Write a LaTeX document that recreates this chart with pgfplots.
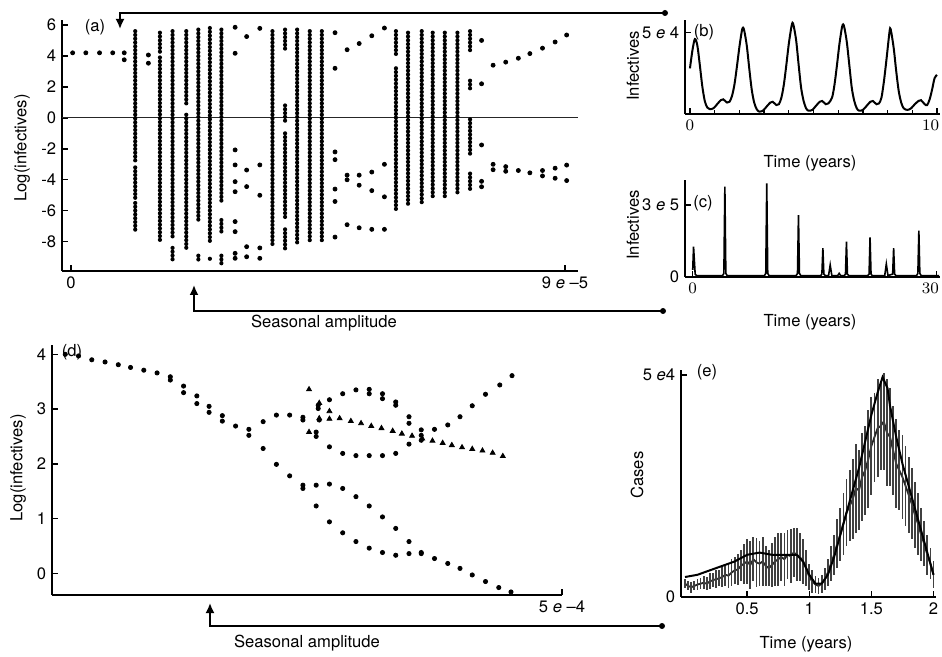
\documentclass[border=0pt]{standalone}
\usepackage{fontspec}
\setmainfont{TeX Gyre Heros}
\usepackage{pgfplots}
\pgfplotsset{compat=1.18}
\usetikzlibrary{arrows.meta}

\pgfplotsset{
  panel/.style={scale only axis, anchor=south west,
    axis x line=bottom, axis y line=left,
    axis line style={-, line width=0.9pt},
    tick style={black, line width=0.7pt},
    tick align=inside, major tick length=3pt, minor tick length=2pt,
    tick label style={font=\fontsize{8.3}{9}\selectfont}},
  dots/.style={only marks, mark=*, mark size=1pt, black},
  cols/.style={no marks, black, line width=2.1pt, line cap=round,
    dash pattern=on 0pt off 1.9pt, unbounded coords=jump},
  lastlab/.style={extra x tick style={xticklabel style={anchor=north east, xshift=4pt}}},
}

\begin{document}
\fontsize{8.3}{10}\selectfont
\begin{tikzpicture}
\path[use as bounding box] (0pt,0pt) rectangle (471pt,-328.5pt);

% ---- (a) bifurcation diagram
\begin{axis}[panel, at={(31pt,-135.5pt)}, width=258pt, height=125.5pt,
  xmin=-0.164, xmax=9.237, ymin=-9.89, ymax=6.32,
  xtick={0,9}, xticklabels={0, 9 \textit{e} --5},
  ytick={-8,-6,-4,-2,0,2,4,6}, yticklabels={-8,-6,-4,-2,0,2,4,6}]
\addplot[black!85, line width=0.6pt] coordinates {(-0.164,0) (9.237,0)};
\addplot[cols] coordinates {
(1.17,5.6)(1.17,-2.9)(1.17,nan)(1.17,-3.2)(1.17,-5.2)(1.17,nan)(1.17,-5.5)(1.17,-7.3)(1.17,nan)
(1.62,5.5)(1.62,4.2)(1.62,nan)(1.62,3.9)(1.62,-8.1)(1.62,nan)
(1.85,5.6)(1.85,-7.7)(1.85,nan)(1.85,-8.4)(1.85,-9.2)(1.85,nan)
(2.10,5.6)(2.10,0.9)(2.10,nan)(2.10,0.2)(2.10,-8.4)(2.10,nan)
(2.32,5.7)(2.32,-6.8)(2.32,nan)(2.32,-8.9)(2.32,-9.2)(2.32,nan)
(2.53,5.8)(2.53,-8.1)(2.53,nan)(2.53,-9.1)(2.53,-9.3)(2.53,nan)
(2.74,5.7)(2.74,-5.5)(2.74,nan)(2.74,-6.6)(2.74,-7.5)(2.74,nan)(2.74,-8.9)(2.74,-9.5)(2.74,nan)
(3.67,5.6)(3.67,-8.3)(3.67,nan)
(3.90,5.7)(3.90,4.4)(3.90,nan)(3.90,0.8)(3.90,-0.2)(3.90,nan)(3.90,-1.0)(3.90,-6.4)(3.90,nan)(3.90,-7.2)(3.90,-8.5)(3.90,nan)
(4.12,5.7)(4.12,-8.1)(4.12,nan)
(4.35,5.6)(4.35,-8.0)(4.35,nan)
(4.57,5.6)(4.57,-8.1)(4.57,nan)
(5.92,5.6)(5.92,4.0)(5.92,nan)(5.92,3.2)(5.92,-6.0)(5.92,nan)
(6.14,5.5)(6.14,-5.6)(6.14,nan)
(6.39,5.6)(6.39,-5.5)(6.39,nan)
(6.59,5.5)(6.59,-5.1)(6.59,nan)
(6.81,5.5)(6.81,-5.1)(6.81,nan)
(7.04,5.5)(7.04,-5.0)(7.04,nan)
(7.27,5.6)(7.27,4.3)(7.27,nan)(7.27,2.4)(7.27,1.7)(7.27,nan)(7.27,-0.1)(7.27,-2.4)(7.27,nan)(7.27,-3.6)(7.27,-4.8)
};
\addplot[dots] coordinates {
(0.03,4.2)(0.27,4.2)(0.52,4.2)(0.76,4.2)(0.97,4.2)(0.97,3.75)
(1.41,4.06)(1.41,3.53)
(2.99,5.85)(2.99,4.17)(2.99,-2.07)(2.99,-3.04)(2.99,-4.12)(2.99,-4.77)(2.99,-6.7)(2.99,-7.35)(2.99,-8.75)(2.99,-9.07)
(3.2,5.25)(3.2,-3.37)(3.2,-4.44)(3.2,-8.32)(3.2,-8.97)
(3.44,5.78)(3.44,-3.04)(3.44,-5.0)(3.44,-8.4)(3.44,-9.07)
(4.81,5.5)(4.81,3.2)(4.81,-2.2)(4.81,-2.7)(4.81,-4.6)(4.81,-5.4)(4.81,-7.7)
(5.03,4.4)(5.03,-3.7)(5.03,-4.0)(5.03,-6.9)
(5.25,4.8)(5.25,-3.7)(5.25,-4.35)(5.25,-7.1)
(5.48,5.3)(5.48,-3.5)(5.48,-4.7)(5.48,-7.2)
(5.71,5.8)(5.71,-3.0)(5.71,-5.1)(5.71,-7.2)
(7.48,5.0)(7.48,2.2)(7.48,-1.75)(7.48,-4.1)(7.48,-4.45)
(7.69,3.4)(7.69,-3.0)(7.69,-3.35)
(7.92,3.6)(7.92,-3.15)(7.92,-3.45)
(8.15,3.85)(8.15,-3.4)
(8.36,4.15)(8.36,-3.55)
(8.59,4.5)(8.59,-3.4)(8.59,-3.75)
(8.82,4.9)(8.82,-3.25)(8.82,-3.9)
(9.03,5.35)(9.03,-3.05)(9.03,-4.05)
};
\end{axis}

% ---- (b) infectives, 10 years
\begin{axis}[panel, lastlab, at={(342.5pt,-57pt)}, width=127.5pt, height=47pt,
  xmin=-0.2, xmax=10.12, ymin=0, ymax=5.77, clip=false,
  xtick={0}, extra x ticks={10}, minor xtick={1,2,3,4,5,6,7,8,9},
  ytick={5}, yticklabels={5 \textit{e} 4}]
\addplot[black, line width=1pt, smooth, tension=0.5] coordinates {
(0.0,2.8)(0.1,3.9)(0.2,4.6)(0.3,4.2)(0.4,3.0)(0.5,1.7)(0.6,0.8)(0.7,0.4)(0.8,0.3)
(0.95,0.35)(1.1,0.6)(1.25,0.85)(1.35,0.9)(1.5,0.7)(1.6,0.75)(1.7,1.1)(1.8,1.8)(1.9,2.9)
(2.0,4.1)(2.1,5.1)(2.15,5.3)(2.2,5.1)(2.3,4.2)(2.4,2.8)(2.5,1.5)(2.6,0.7)(2.7,0.3)(2.8,0.15)
(2.95,0.2)(3.1,0.45)(3.25,0.7)(3.35,0.75)(3.5,0.55)(3.6,0.6)(3.7,1.0)(3.8,1.8)(3.9,3.0)
(4.0,4.3)(4.1,5.3)(4.15,5.6)(4.2,5.4)(4.3,4.5)(4.4,3.0)(4.5,1.6)(4.6,0.8)(4.7,0.35)(4.8,0.2)
(4.95,0.25)(5.1,0.5)(5.25,0.75)(5.35,0.8)(5.5,0.6)(5.6,0.65)(5.75,1.0)(5.85,1.8)(5.95,3.0)
(6.05,4.3)(6.15,5.3)(6.2,5.5)(6.25,5.3)(6.35,4.4)(6.45,3.0)(6.55,1.6)(6.65,0.8)(6.75,0.35)
(6.85,0.2)(7.0,0.25)(7.15,0.5)(7.3,0.75)(7.4,0.8)(7.55,0.6)(7.65,0.65)(7.75,1.0)(7.85,2.0)
(7.95,3.3)(8.05,4.7)(8.1,5.26)(8.15,5.0)(8.25,4.0)(8.35,2.6)(8.45,1.4)(8.55,0.7)(8.65,0.35)
(8.8,0.25)(8.95,0.35)(9.1,0.6)(9.25,0.8)(9.35,0.85)(9.5,0.6)(9.6,0.55)(9.7,0.9)(9.8,1.5)
(9.9,2.2)(10.0,2.4)
};
\end{axis}

% ---- (c) infectives, 30 years
\begin{axis}[panel, lastlab, at={(342.5pt,-138.5pt)}, width=127.5pt, height=48.5pt,
  xmin=-0.95, xmax=30.4, ymin=0, ymax=4.04,
  xtick={0}, extra x ticks={30}, ytick={0,3}, yticklabels={0,3 \textit{e} 5}]
\addplot[black, line width=0.8pt] coordinates {
(0,0.3)(0.1,1.26)(0.3,0.12)(0.5,0.05)
(3.65,0.05)(3.83,0.15)(3.95,3.76)(4.07,0.15)(4.25,0.05)
(8.8,0.05)(8.98,0.15)(9.1,3.9)(9.22,0.15)(9.4,0.05)
(12.7,0.05)(12.88,0.15)(13.0,2.58)(13.12,0.15)(13.3,0.05)
(15.7,0.05)(15.88,0.12)(16.0,1.2)(16.12,0.12)(16.3,0.06)
(16.7,0.06)(16.9,0.5)(17.1,0.06)
(17.8,0.05)(18.0,0.15)(18.2,0.05)
(18.6,0.05)(18.78,0.12)(18.9,1.47)(19.02,0.12)(19.2,0.05)
(21.5,0.05)(21.68,0.12)(21.8,1.65)(21.92,0.12)(22.1,0.05)
(23.6,0.05)(23.8,0.54)(24.0,0.06)(24.58,0.12)(24.7,1.2)(24.82,0.12)(25.0,0.05)
(27.5,0.05)(27.68,0.15)(27.8,1.93)(27.92,0.15)(28.1,0.05)(30.3,0.05)
};
\end{axis}

% ---- (d) bifurcation, second model
\begin{axis}[panel, at={(26pt,-297.5pt)}, width=255pt, height=125pt,
  xmin=0, xmax=5, ymin=-0.396, ymax=4.17,
  xtick={5}, xticklabels={5 \textit{e} --4},
  ytick={0,1,2,3,4}, yticklabels={0,1,2,3,4}]
\addplot[dots, mark size=1.05pt] coordinates {
(0.13,4.00)(0.26,3.97)(0.39,3.90)(0.52,3.86)(0.65,3.81)(0.77,3.76)(0.90,3.71)(1.03,3.66)
(1.16,3.59)(1.16,3.53)(1.29,3.42)(1.29,3.30)(1.42,3.24)(1.42,3.10)(1.54,3.05)(1.54,2.94)
(1.67,2.88)(1.67,2.78)(1.80,2.69)(1.93,2.63)(1.93,2.52)
(2.07,2.77)(2.20,2.89)(2.33,2.89)(2.46,2.85)(2.46,2.80)(2.59,2.58)(2.59,2.50)
(2.61,3.07)(2.61,3.01)(2.62,2.80)(2.72,3.17)
(2.85,3.28)(2.98,3.35)(3.11,3.36)(3.11,3.28)(3.24,3.28)(3.24,3.19)(3.37,3.13)(3.37,3.07)
(3.50,2.86)(3.50,2.74)(3.62,2.62)(3.62,2.52)(3.75,2.63)(3.88,2.71)(4.00,2.86)(4.12,3.06)
(4.25,3.27)(4.39,3.44)(4.51,3.61)
(2.07,2.28)(2.20,1.99)(2.33,1.78)(2.46,1.61)(2.46,1.55)(2.59,1.61)(2.72,1.63)(2.85,1.55)
(2.98,1.40)(3.11,1.23)(3.24,1.03)(3.37,0.82)(3.50,0.58)(3.62,0.38)
(2.59,1.23)(2.72,0.94)(2.85,0.74)(2.98,0.58)(3.11,0.46)(3.24,0.38)(3.37,0.33)(3.50,0.36)
(3.62,0.36)(3.75,0.27)(3.88,0.18)(4.00,0.09)(4.12,-0.03)(4.25,-0.15)(4.38,-0.26)(4.50,-0.34)
(2.72,2.31)(2.85,2.19)(2.98,2.15)(3.11,2.15)(3.24,2.15)(3.37,2.19)(3.50,2.36)(3.62,2.43)
};
\addplot[only marks, mark=triangle*, mark size=1.4pt, black] coordinates {
(2.52,3.36)(2.52,2.58)(2.62,3.11)(2.62,2.83)(2.72,2.96)(2.72,2.82)(2.82,2.83)(2.93,2.78)
(3.03,2.74)(3.13,2.69)(3.23,2.65)(3.34,2.60)(3.43,2.55)(3.53,2.51)(3.63,2.46)(3.73,2.42)
(3.83,2.38)(3.92,2.34)(4.02,2.30)(4.12,2.27)(4.22,2.24)(4.32,2.20)(4.42,2.14)
};
\end{axis}

% ---- (e) cases with error bars
\begin{axis}[panel, at={(340.5pt,-298.5pt)}, width=127.5pt, height=113.5pt,
  xmin=-0.032, xmax=2.02, ymin=0, ymax=5.11,
  xtick={0.5,1,1.5,2}, xticklabels={0.5,1,1.5,2},
  ytick={0,5}, yticklabels={0,5 \textit{e}4}]
\addplot[black!85, line width=0.9pt,
  error bars/.cd, y dir=both, y explicit, error mark=none,
  error bar style={black!75, line width=0.9pt}] coordinates {
(0.000,0.30)+-(0,0.10) (0.025,0.25)+-(0,0.10) (0.050,0.22)+-(0,0.12) (0.075,0.25)+-(0,0.10)
(0.100,0.28)+-(0,0.12) (0.125,0.30)+-(0,0.12) (0.150,0.32)+-(0,0.15) (0.175,0.30)+-(0,0.15)
(0.200,0.35)+-(0,0.18) (0.225,0.38)+-(0,0.15) (0.250,0.40)+-(0,0.20) (0.275,0.42)+-(0,0.18)
(0.300,0.45)+-(0,0.22) (0.325,0.50)+-(0,0.25) (0.350,0.48)+-(0,0.28) (0.375,0.55)+-(0,0.30)
(0.400,0.60)+-(0,0.30) (0.425,0.62)+-(0,0.35) (0.450,0.70)+-(0,0.35) (0.475,0.75)+-(0,0.45)
(0.500,0.80)+-(0,0.50) (0.525,0.72)+-(0,0.55) (0.550,0.85)+-(0,0.50) (0.575,0.78)+-(0,0.55)
(0.600,0.75)+-(0,0.50) (0.625,0.80)+-(0,0.55) (0.650,0.70)+-(0,0.45) (0.675,0.65)+-(0,0.40)
(0.700,0.72)+-(0,0.50) (0.725,0.80)+-(0,0.55) (0.750,0.85)+-(0,0.60) (0.775,0.90)+-(0,0.55)
(0.800,0.85)+-(0,0.60) (0.825,0.95)+-(0,0.55) (0.850,0.92)+-(0,0.60) (0.875,1.00)+-(0,0.55)
(0.900,0.95)+-(0,0.60) (0.925,0.90)+-(0,0.55) (0.950,0.80)+-(0,0.50) (0.975,0.65)+-(0,0.40)
(1.000,0.45)+-(0,0.30) (1.025,0.35)+-(0,0.25) (1.050,0.28)+-(0,0.20) (1.075,0.25)+-(0,0.18)
(1.100,0.30)+-(0,0.20) (1.125,0.40)+-(0,0.25) (1.150,0.55)+-(0,0.30) (1.175,0.75)+-(0,0.40)
(1.200,0.95)+-(0,0.45) (1.225,1.20)+-(0,0.55) (1.250,1.40)+-(0,0.60) (1.275,1.65)+-(0,0.70)
(1.300,1.90)+-(0,0.75) (1.325,2.05)+-(0,0.80) (1.350,2.20)+-(0,0.90) (1.375,2.45)+-(0,1.00)
(1.400,2.40)+-(0,0.90) (1.425,2.70)+-(0,1.00) (1.450,2.85)+-(0,1.00) (1.475,3.10)+-(0,1.10)
(1.500,3.40)+-(0,1.10) (1.525,3.60)+-(0,1.00) (1.550,3.80)+-(0,1.10) (1.575,3.85)+-(0,1.00)
(1.600,3.95)+-(0,1.10) (1.625,3.70)+-(0,1.20) (1.650,3.60)+-(0,1.10) (1.675,3.30)+-(0,1.00)
(1.700,3.00)+-(0,1.00) (1.725,2.85)+-(0,0.90) (1.750,2.70)+-(0,0.95) (1.775,2.50)+-(0,0.90)
(1.800,2.30)+-(0,0.85) (1.825,2.10)+-(0,0.80) (1.850,1.85)+-(0,0.75) (1.875,1.65)+-(0,0.70)
(1.900,1.40)+-(0,0.60) (1.925,1.20)+-(0,0.50) (1.950,0.95)+-(0,0.45) (1.975,0.75)+-(0,0.35)
(2.000,0.50)+-(0,0.30)
};
\addplot[black, line width=1pt] coordinates {
(0,0.45)(0.1,0.5)(0.2,0.6)(0.3,0.7)(0.4,0.8)(0.5,0.95)(0.6,1.0)(0.7,0.95)(0.8,0.95)
(0.9,0.95)(0.95,0.8)(1.0,0.5)(1.05,0.3)(1.1,0.3)(1.15,0.5)(1.2,0.9)(1.25,1.4)(1.3,1.9)
(1.35,2.4)(1.4,2.9)(1.45,3.5)(1.5,4.1)(1.55,4.6)(1.59,4.95)(1.63,4.7)(1.65,4.3)(1.7,3.6)
(1.75,3.0)(1.8,2.5)(1.85,2.0)(1.9,1.5)(1.95,1.0)(2.0,0.5)
};
\end{axis}

% ---- labels and connecting arrows
\begin{scope}[x=0.5pt, y=-0.5pt]
\node at (95,27) {(a)};
\node at (704,32) {(b)};
\node at (703,203) {(c)};
\node at (72,352) {(d)};
\node at (707,372) {(e)};
\node[rotate=90] at (22,148) {Log(infectives)};
\node[rotate=90] at (18,468) {Log(infectives)};
\node[rotate=90] at (633,66) {Infectives};
\node[rotate=90] at (633,225) {Infectives};
\node[rotate=90] at (637,475) {Cases};
\node at (324,323) {Seasonal amplitude};
\node at (307,643) {Seasonal amplitude};
\node at (810,163) {Time (years)};
\node at (810,322) {Time (years)};
\node at (806,644) {Time (years)};
\draw[line width=0.9pt, -{Latex[length=5pt,width=4.5pt]}] (665,13) -- (120,13) -- (120,29);
\fill (665,13) circle (3);
\draw[line width=0.9pt, -{Latex[length=5pt,width=4.5pt]}] (663,311) -- (194,311) -- (194,285);
\fill (663,311) circle (3);
\draw[line width=0.9pt, -{Latex[length=5pt,width=4.5pt]}] (662,626) -- (210,626) -- (210,603);
\fill (662,626) circle (3);
\end{scope}
\end{tikzpicture}
\end{document}
